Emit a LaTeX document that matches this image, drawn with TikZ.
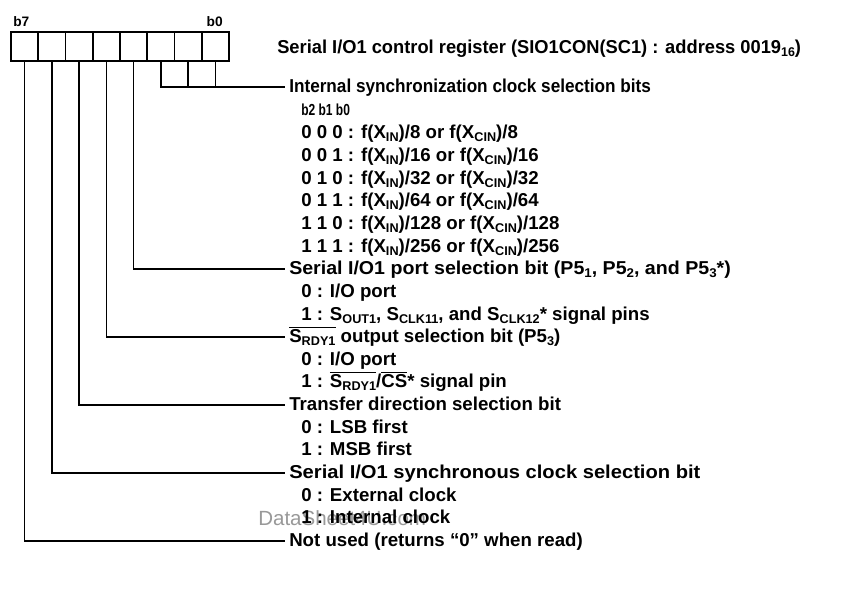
\documentclass[tikz,border=0pt]{standalone}
\usepackage{fontspec}
\setmainfont{Liberation Sans}
\newfontfamily\wmfont{Liberation Sans}
\newcommand\dn[1]{\raisebox{-0.35ex}{\fontsize{9.5}{10}\selectfont #1}}
\newcommand\ovl[1]{$\overline{\mbox{#1}}$}
\newcommand\hs[2]{\scalebox{#1}[1]{#2}}
\begin{document}
\begin{tikzpicture}[x=0.75pt,y=-0.75pt,
  every node/.style={inner sep=0pt},
  cell/.style={draw,line width=1.3pt,minimum width=20.44pt,minimum height=21.75pt},
  lbl/.style={anchor=west,inner xsep=3pt,text height=10.5pt,text depth=3pt,font=\bfseries\fontsize{14}{16}\selectfont},
  bitlbl/.style={font=\bfseries\fontsize{10.3}{12}\selectfont},
  wire/.style={line width=1.1pt}]
\useasboundingbox[fill=white] (0,0) rectangle (846,594);
% watermark
\node[anchor=west,text=black!40,font=\wmfont\fontsize{15.4}{16}\selectfont] (wm) at (258,518) {DataSheet4U.com};
% register
\foreach \i/\b in {0/7,1/6,2/5,3/4,4/3,5/2,6/1,7/0}{
  \node[cell] (c\b) at ({11+27.25*(\i+0.5)},46.5) {};
}
\node[bitlbl,anchor=west] (b7) at (13,22) {b7};
\node[bitlbl,anchor=east] (b0) at (223,22) {b0};
% title
\node[lbl] (title) at (273,48) {\hs{0.98}{Serial I/O1 control register (SIO1CON(SC1) : address 0019\dn{16})}};
% labels
\def\mx{285}
\def\sx{297}
\node[lbl] (L0) at (\mx,87) {\hs{0.92}{Internal synchronization clock selection bits}};
\node[lbl] (s00) at (\sx,110) {\scalebox{0.75}[1]{\fontsize{12}{13}\selectfont b2 b1 b0}};
\node[lbl] (s01) at (\sx,133) {0 0 0 : f(X\dn{IN})/8 or f(X\dn{CIN})/8};
\node[lbl] (s02) at (\sx,156) {0 0 1 : f(X\dn{IN})/16 or f(X\dn{CIN})/16};
\node[lbl] (s03) at (\sx,179) {0 1 0 : f(X\dn{IN})/32 or f(X\dn{CIN})/32};
\node[lbl] (s04) at (\sx,201) {0 1 1 : f(X\dn{IN})/64 or f(X\dn{CIN})/64};
\node[lbl] (s05) at (\sx,224) {1 1 0 : f(X\dn{IN})/128 or f(X\dn{CIN})/128};
\node[lbl] (s06) at (\sx,247) {1 1 1 : f(X\dn{IN})/256 or f(X\dn{CIN})/256};
\node[lbl] (L3) at (\mx,269) {\hs{1.05}{Serial I/O1 port selection bit (P5\dn{1}, P5\dn{2}, and P5\dn{3}*)}};
\node[lbl] (s31) at (\sx,292) {0 : I/O port};
\node[lbl] (s32) at (\sx,315) {1 : S\dn{OUT1}, S\dn{CLK11}, and S\dn{CLK12}* signal pins};
\node[lbl] (L4) at (\mx,337) {\ovl{S\dn{RDY1}} output selection bit (P5\dn{3})};
\node[lbl] (s41) at (\sx,360) {0 : I/O port};
\node[lbl] (s42) at (\sx,382) {1 : \ovl{S\dn{RDY1}}/\ovl{CS}* signal pin};
\node[lbl] (L5) at (\mx,405) {Transfer direction selection bit};
\node[lbl] (s51) at (\sx,428) {0 : LSB first};
\node[lbl] (s52) at (\sx,450) {1 : MSB first};
\node[lbl] (L6) at (\mx,473) {\hs{1.08}{Serial I/O1 synchronous clock selection bit}};
\node[lbl] (s61) at (\sx,496) {0 : External clock};
\node[lbl] (s62) at (\sx,518) {1 : Internal clock};
\node[lbl] (L7) at (\mx,541) {Not used (returns “0” when read)};
% connectors
\draw[wire] (c2.south) |- (L0.west);
\draw[wire] (c1.south) -- (c1.south |- L0.west);
\draw[wire] (c0.south) -- (c0.south |- L0.west);
\draw[wire] (c3.south) |- (L3.west);
\draw[wire] (c4.south) |- (L4.west);
\draw[wire] (c5.south) |- (L5.west);
\draw[wire] (c6.south) |- (L6.west);
\draw[wire] (c7.south) |- (L7.west);
\end{tikzpicture}
\end{document}
